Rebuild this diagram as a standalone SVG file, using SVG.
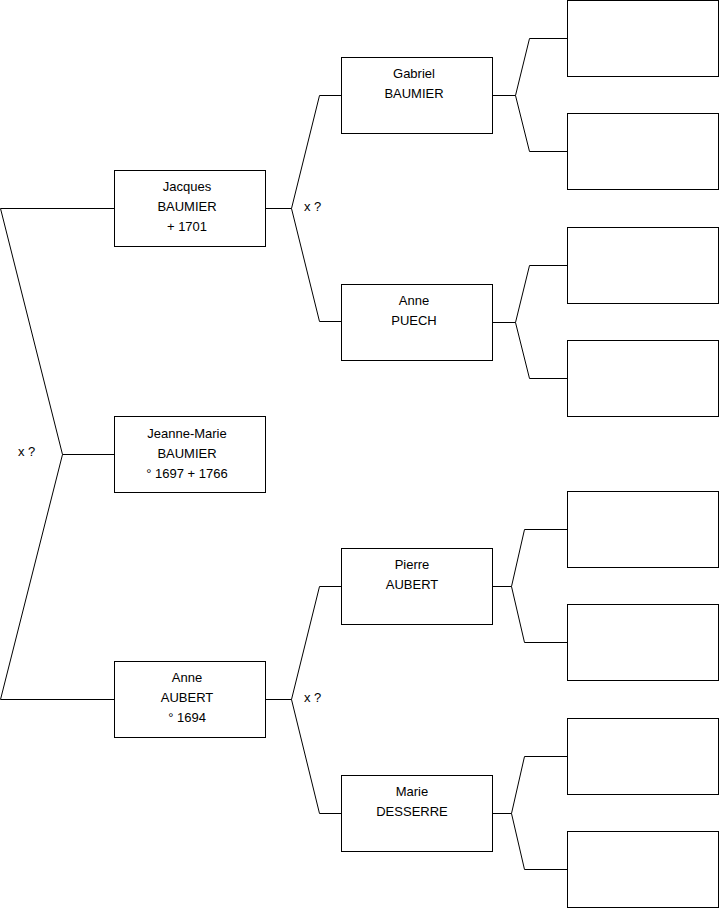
<svg xmlns="http://www.w3.org/2000/svg" width="719" height="908" viewBox="0 0 719 908">
<style>
.b{fill:#fff;stroke:#000;stroke-width:1}
.c{fill:none;stroke:#000;stroke-width:1}
text{font-family:"Liberation Sans",Arial,sans-serif;font-size:13px;fill:#000}
.m{text-anchor:middle}
</style>
<rect width="719" height="908" fill="#fff"/>
<g id="connectors">
<path class="c" d="M114,208.5H0.5L62.5,454.5L0.5,699.5H114M62.5,454.5H114"/>
<path class="c" d="M265,208.5H291.5L319.5,95.5H341M291.5,208.5L319.5,321.5H341"/>
<path class="c" d="M265,699.5H291.5L319.5,586.5H341M291.5,699.5L319.5,813.5H341"/>
<path class="c" d="M492,95.5H515.5L529.5,38.5H567M515.5,95.5L529.5,151.5H567"/>
<path class="c" d="M492,322.5H515.5L529.5,265.5H567M515.5,322.5L529.5,378.5H567"/>
<path class="c" d="M492,586.5H511.5L524.5,529.5H567M511.5,586.5L524.5,642.5H567"/>
<path class="c" d="M492,813.5H511.5L524.5,756.5H567M511.5,813.5L524.5,869.5H567"/>
<text x="18" y="456">x ?</text>
<text x="304" y="211">x ?</text>
<text x="304" y="702">x ?</text>
</g>
<g id="jacques"><rect class="b" x="114.5" y="170.5" width="151" height="76"/><text class="m" x="187" y="190.5">Jacques</text><text class="m" x="187" y="210.5">BAUMIER</text><text class="m" x="187" y="230.5">+ 1701</text></g>
<g id="jeanne-marie"><rect class="b" x="114.5" y="416.5" width="151" height="76"/><text class="m" x="187" y="437.5">Jeanne-Marie</text><text class="m" x="187" y="457.5">BAUMIER</text><text class="m" x="187" y="477.5">° 1697 + 1766</text></g>
<g id="anne-aubert"><rect class="b" x="114.5" y="661.5" width="151" height="76"/><text class="m" x="187" y="681.5">Anne</text><text class="m" x="187" y="701.5">AUBERT</text><text class="m" x="187" y="721.5">° 1694</text></g>
<g id="gabriel"><rect class="b" x="341.5" y="57.5" width="151" height="76"/><text class="m" x="414" y="77.5">Gabriel</text><text class="m" x="414" y="97.5">BAUMIER</text></g>
<g id="anne-puech"><rect class="b" x="341.5" y="284.5" width="151" height="76"/><text class="m" x="414" y="304.5">Anne</text><text class="m" x="414" y="324.5">PUECH</text></g>
<g id="pierre"><rect class="b" x="341.5" y="548.5" width="151" height="76"/><text class="m" x="412" y="568.5">Pierre</text><text class="m" x="412" y="588.5">AUBERT</text></g>
<g id="marie"><rect class="b" x="341.5" y="775.5" width="151" height="76"/><text class="m" x="412" y="795.5">Marie</text><text class="m" x="412" y="815.5">DESSERRE</text></g>
<g id="g3-1"><rect class="b" x="567.5" y="0.5" width="151" height="76"/></g>
<g id="g3-2"><rect class="b" x="567.5" y="113.5" width="151" height="76"/></g>
<g id="g3-3"><rect class="b" x="567.5" y="227.5" width="151" height="76"/></g>
<g id="g3-4"><rect class="b" x="567.5" y="340.5" width="151" height="76"/></g>
<g id="g3-5"><rect class="b" x="567.5" y="491.5" width="151" height="76"/></g>
<g id="g3-6"><rect class="b" x="567.5" y="604.5" width="151" height="76"/></g>
<g id="g3-7"><rect class="b" x="567.5" y="718.5" width="151" height="76"/></g>
<g id="g3-8"><rect class="b" x="567.5" y="831.5" width="151" height="76"/></g>
</svg>
